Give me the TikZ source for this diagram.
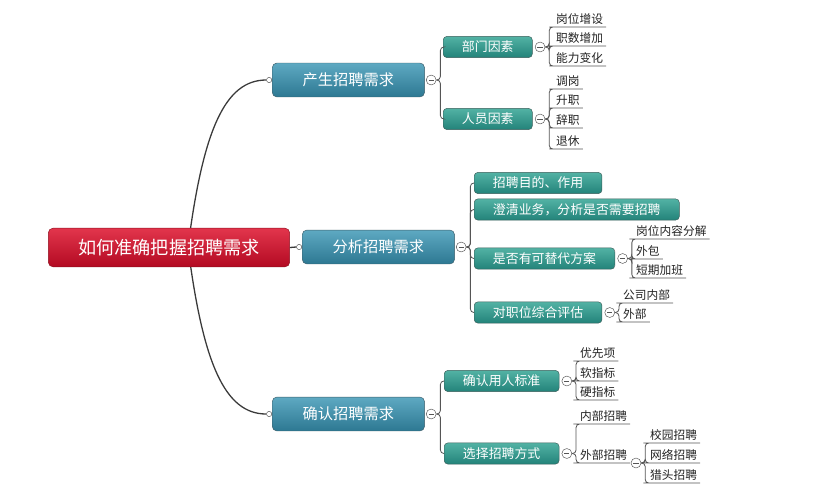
\documentclass[tikz,border=0pt]{standalone}
\usepackage{fontspec}
\newfontfamily\cjk{Noto Sans CJK SC}
\usetikzlibrary{backgrounds}

\definecolor{rootTop}{HTML}{E2354C}
\definecolor{rootBot}{HTML}{B30A22}
\definecolor{rootEdge}{HTML}{8E1020}
\definecolor{mainTop}{HTML}{5EA9C2}
\definecolor{mainBot}{HTML}{2D7892}
\definecolor{mainEdge}{HTML}{3E5E6A}
\definecolor{subTop}{HTML}{52B2A4}
\definecolor{subBot}{HTML}{23837A}
\definecolor{subEdge}{HTML}{3C5E5A}
\definecolor{linkGray}{HTML}{555555}
\definecolor{trunkGray}{HTML}{3A3A3A}
\definecolor{leafText}{HTML}{222222}

\tikzset{
	rootbox/.style={draw=rootEdge, rounded corners=4pt, top color=rootTop, bottom color=rootBot,
		text=white, font=\cjk\fontsize{15.5}{18}\selectfont, minimum width=206pt, minimum height=33pt, inner sep=0pt},
	mainbox/.style={draw=mainEdge, rounded corners=4pt, top color=mainTop, bottom color=mainBot,
		text=white, font=\cjk\fontsize{13}{15}\selectfont, minimum width=130pt, minimum height=29pt, inner sep=0pt},
	subbox/.style={draw=subEdge, rounded corners=3pt, top color=subTop, bottom color=subBot,
		text=white, font=\cjk\fontsize{11}{13}\selectfont, inner xsep=16pt, inner ysep=0pt, minimum height=18pt},
	leaf/.style={anchor=south west, inner xsep=2.5pt, inner ysep=2pt, text=leafText, font=\cjk\fontsize{10}{12}\selectfont},
	fold/.style={circle, draw=linkGray, fill=white, minimum size=8.5pt, inner sep=0pt, anchor=west,
		path picture={\draw[linkGray, line width=0.8pt] ([xshift=2pt]path picture bounding box.west) -- ([xshift=-2pt]path picture bounding box.east);}},
	knob/.style={circle, draw=linkGray, fill=white, minimum size=4.5pt, inner sep=0pt, anchor=east},
	link/.style={draw=linkGray, line width=0.7pt, rounded corners=3pt},
	trunk/.style={draw=trunkGray, line width=1.1pt}
}

\begin{document}
\begin{tikzpicture}[x=0.03cm, y=-0.03cm]
	\useasboundingbox (0,0) rectangle (825,500);

	% root and main topics
	\node[rootbox] (root) at (169,247.5) {如何准确把握招聘需求};
	\node[mainbox, anchor=west] (need) at (272,80) {产生招聘需求};
	\node[mainbox, anchor=west] (analyze) at (302,247) {分析招聘需求};
	\node[mainbox, anchor=west] (confirm) at (272,414) {确认招聘需求};
	\node[knob] (kneed) at (need.west) {};
	\node[knob] (kanalyze) at (analyze.west) {};
	\node[knob] (kconfirm) at (confirm.west) {};
	\node[fold, xshift=1pt] (fneed) at (need.east) {};
	\node[fold, xshift=1pt] (fanalyze) at (analyze.east) {};
	\node[fold, xshift=1pt] (fconfirm) at (confirm.east) {};
	\coordinate (hub) at (188,247);

	% subtopics
	\node[subbox, anchor=west] (dept) at (443,47) {部门因素};
	\node[subbox, anchor=west] (staff) at (443,119) {人员因素};
	\node[subbox, anchor=west] (goal) at (474,183) {招聘目的、作用};
	\node[subbox, anchor=west] (clarify) at (474,209.5) {澄清业务，分析是否需要招聘};
	\node[subbox, anchor=west] (alt) at (474,258.5) {是否有可替代方案};
	\node[subbox, anchor=west] (eval) at (474,312.5) {对职位综合评估};
	\node[subbox, anchor=west] (std) at (444,381) {确认用人标准};
	\node[subbox, anchor=west] (way) at (444,453.5) {选择招聘方式};
	\node[fold, xshift=2pt] (fdept) at (dept.east) {};
	\node[fold, xshift=2pt] (fstaff) at (staff.east) {};
	\node[fold, xshift=2pt] (falt) at (alt.east) {};
	\node[fold, xshift=2pt] (feval) at (eval.east) {};
	\node[fold, xshift=2pt] (fstd) at (std.east) {};
	\node[fold, xshift=2pt] (fway) at (way.east) {};

	% leaves
	\node[leaf] (d1) at (553,27) {岗位增设};
	\node[leaf] (d2) at (553,46) {职数增加};
	\node[leaf] (d3) at (553,66) {能力变化};
	\node[leaf] (s1) at (553,89) {调岗};
	\node[leaf] (s2) at (553,108) {升职};
	\node[leaf] (s3) at (553,128) {辞职};
	\node[leaf] (s4) at (553,149) {退休};
	\node[leaf] (a1) at (633,239) {岗位内容分解};
	\node[leaf] (a2) at (633,259) {外包};
	\node[leaf] (a3) at (633,278) {短期加班};
	\node[leaf] (e1) at (620,303) {公司内部};
	\node[leaf] (e2) at (620,322) {外部};
	\node[leaf] (t1) at (577,361) {优先项};
	\node[leaf] (t2) at (577,381) {软指标};
	\node[leaf] (t3) at (577,400) {硬指标};
	\node[leaf] (w1) at (577,424) {内部招聘};
	\node[leaf] (outer) at (577,463) {外部招聘};
	\node[fold, xshift=0.5pt] (fouter) at (outer.south east) {};
	\node[leaf] (o1) at (647,443) {校园招聘};
	\node[leaf] (o2) at (647,463) {网络招聘};
	\node[leaf] (o3) at (647,483) {猎头招聘};

	% connectors
	\begin{scope}[on background layer]
		\draw[trunk] (hub) .. controls (203,130) and (225,80) .. (kneed.west);
		\draw[trunk] (hub) .. controls (203,364) and (225,414) .. (kconfirm.west);
	\end{scope}
	\draw[trunk] (root.east) -- (kanalyze.west);

	\foreach \a/\b in {fneed/dept, fneed/staff, fanalyze/goal, fanalyze/clarify, fanalyze/alt,
		fanalyze/eval, fconfirm/std, fconfirm/way}
		\draw[link] (\a.east) -- ++(4,0) |- (\b.west);

	\foreach \a/\b in {fdept/d1, fdept/d2, fdept/d3, fstaff/s1, fstaff/s2, fstaff/s3, fstaff/s4,
		falt/a1, falt/a2, falt/a3, feval/e1, feval/e2, fstd/t1, fstd/t2, fstd/t3,
		fway/w1, fway/outer, fouter/o1, fouter/o2, fouter/o3}
		\draw[link] (\a.east) -- ++(4,0) |- (\b.south west) -- (\b.south east);
\end{tikzpicture}
\end{document}
